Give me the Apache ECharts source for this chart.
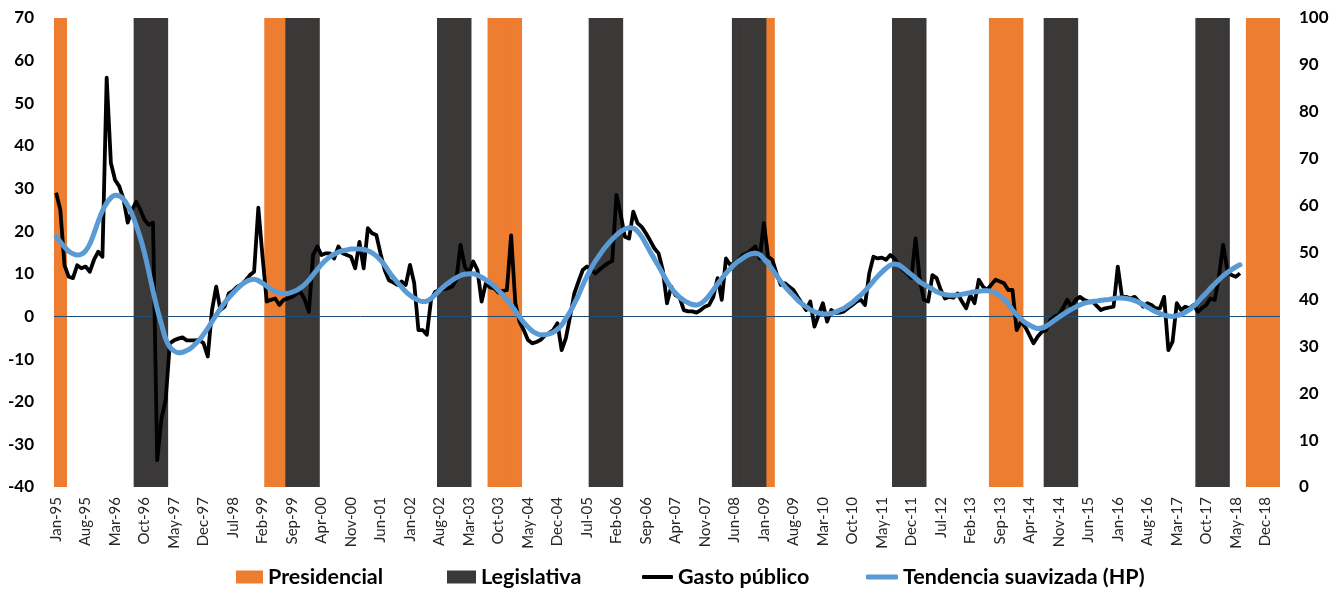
<!DOCTYPE html>
<html>
<head>
<meta charset="utf-8">
<script src="https://cdn.jsdelivr.net/npm/echarts@6/dist/echarts.min.js"></script>
<style>
html,body{margin:0;padding:0;background:#fff;}
#chart{width:1343px;height:591px;}
</style>
</head>
<body>
<div id="chart"></div>
<script>
// ---- Data ----
const monthNames = ['Jan','Feb','Mar','Apr','May','Jun','Jul','Aug','Sep','Oct','Nov','Dec'];
const startYear = 1995;
const monthCount = 291; // Jan-95 .. Mar-19

// Election periods: [first month index, last month index] (0 = Jan-95)
const presidencialPeriods = [[0,2],[50,54],[103,110],[169,170],[222,229],[283,290]];
const legislativaPeriods = [[19,26],[55,62],[91,98],[127,134],[161,168],[199,206],[235,242],[271,278]];

// Gasto público (monthly, from Jan-95)
const gastoPublico = [
29,25,12,9.3,9,12,11.3,11.7,10.5,13.3,
15.2,14,56,36,32,30.5,27.5,22,25,26.9,
25,22.6,21.5,22,-33.7,-24,-19.6,-6.3,-5.6,-5.2,
-4.9,-5.6,-5.6,-5.6,-5.5,-6.3,-9.4,1.5,7,1.5,
2.3,5.4,6,7,7.5,8.5,9.7,10.5,25.5,14,
3.5,3.9,4.2,2.7,3.9,4.2,4.6,5.3,5.8,4.0,
1.1,14.5,16.4,14.4,14.8,14.8,13.6,16.4,14.8,14.4,
14,11.3,17.5,11.3,20.7,19.5,19.1,14.8,10.9,8.5,
8,7.4,8.2,7.4,12.1,7.8,-3.2,-3.2,-4.3,3.9,
5.8,6.2,6.4,6.6,7,8.6,16.8,11.7,10.1,12.9,
10.9,3.5,7.8,6.8,6.6,5.6,6,6.2,19,3.1,
-1.2,-3.2,-5.5,-6.3,-6,-5.5,-4.5,-3.9,-3.2,-1.6,
-7.9,-5.1,0,5.4,8.2,10.9,11.7,11,10.1,11,
11.8,12.5,13,28.5,24,18.7,18.3,24.6,21.9,21,
19.5,17.8,16,14.8,10.9,3.1,7,5,4.4,1.5,
1.2,1.2,0.9,1.5,2.3,2.7,4.6,9,3.9,13.6,
12.1,12.5,13.3,14.4,14.8,15.6,16.4,13.6,21.9,14,
13.3,10.1,7.4,7.8,7,6.2,4.6,3.1,1.5,3.5,
-2.4,0.4,3.1,-1.2,1.5,0.8,0.9,1.2,2,2.7,
3.5,3.9,2.7,10.1,14,13.6,13.8,13.3,14.4,13.6,
12,10.9,10.1,9,18.3,8.6,3.9,3.5,9.7,9,
6.2,4.2,4.6,4.4,5.4,3.5,1.9,5,3.1,8.6,
7,6.2,7.5,8.6,8.2,7.8,6.2,6.2,-3.2,-1.2,
-2.4,-4.3,-6.3,-4.7,-3.6,-3.2,-0.8,0,0.4,2,
3.9,2.3,3.9,4.6,3.9,3.5,3.5,2.5,1.5,1.9,
2.1,2.3,11.7,4.6,4.6,4.2,4.6,3.5,2.3,3.1,
2.7,1.9,1.9,4.6,-7.9,-5.9,3.1,1.5,2.3,1.9,
2.7,1.1,2,2.7,4.2,3.9,9.3,16.8,10.9,9.7,
9.3,10.1
];

// Tendencia suavizada (HP)
const tendenciaHP = [
18.7,17.5,16.3,15.3,14.7,14.4,14.6,15.4,17.0,19.5,
22.3,24.8,26.6,27.8,28.4,28.3,27.5,26.0,24.0,21.4,
18.4,14.8,10.5,6.0,1.8,-1.8,-5.2,-7.2,-8.1,-8.5,
-8.4,-8.0,-7.4,-6.5,-5.5,-4.2,-2.8,-1.2,0.3,1.8,
3.2,4.4,5.5,6.5,7.4,8.1,8.6,8.7,8.4,7.8,
7.1,6.4,5.9,5.5,5.4,5.4,5.7,6.1,6.7,7.5,
8.5,9.8,11.0,12.2,13.2,14.0,14.6,15.1,15.4,15.6,
15.8,15.8,15.8,15.7,15.4,14.9,14.2,13.2,12.0,10.5,
9.2,8.0,6.9,5.8,5.0,4.3,3.8,3.5,3.6,4.2,
5.1,6.1,7.0,7.8,8.5,9.1,9.6,9.9,10.0,10.0,
9.7,9.2,8.6,7.9,7.1,6.1,5.1,4.0,2.7,1.3,
-0.1,-1.4,-2.5,-3.4,-4.0,-4.3,-4.3,-4.1,-3.7,-3.0,
-2.0,-0.5,1.1,3.0,5.0,7.3,9.4,11.3,13.0,14.4,
15.8,17.0,18.1,19.1,19.9,20.5,20.8,20.7,20.0,18.7,
17.0,15.2,13.5,11.8,10.0,8.2,6.7,5.5,4.5,3.8,
3.2,2.8,2.7,3.0,3.8,4.9,6.2,7.6,8.9,10.1,
11.2,12.2,13.0,13.7,14.3,14.7,14.8,14.5,13.5,12.4,
11.0,9.6,8.2,7.0,5.9,4.9,3.8,3.0,2.3,1.6,
1.1,0.8,0.6,0.6,0.7,1.0,1.5,1.9,2.6,3.3,
4.2,5.0,6.0,7.1,8.3,9.4,10.4,11.3,12.0,12.3,
12.1,11.4,10.6,9.8,9.0,8.1,7.5,7.0,6.4,5.8,
5.4,5.1,5.0,5.0,5.0,5.2,5.4,5.6,5.8,5.9,
6.0,6.0,5.9,5.5,4.8,4.0,3.0,1.5,0.4,-0.6,
-1.4,-2.0,-2.5,-2.8,-2.7,-2.3,-1.6,-0.9,-0.2,0.5,
1.1,1.7,2.2,2.7,3.1,3.3,3.5,3.6,3.8,3.9,
4.0,4.2,4.3,4.3,4.2,4.0,3.7,3.3,2.8,2.2,
1.6,1.1,0.7,0.3,0.1,0.0,0.2,0.5,1.0,1.6,
2.4,3.4,4.5,5.5,6.6,7.6,8.6,9.5,10.3,11.0,
11.6,12.1
];

const leftAxis = {min: -40, max: 70, interval: 10};
const rightAxis = {min: 0, max: 100, interval: 10};

// ---- Build ----
const categories = [];
for (let i = 0; i < monthCount; i++) {
  const y = startYear + Math.floor(i / 12);
  categories.push(monthNames[i % 12] + '-' + String(y % 100).padStart(2, '0'));
}
function periodSeries(periods) {
  const arr = new Array(monthCount).fill(null);
  periods.forEach(([a, b]) => { for (let i = a; i <= b; i++) arr[i] = rightAxis.max; });
  return arr;
}
const presData = periodSeries(presidencialPeriods);
const legData = periodSeries(legislativaPeriods);

const FONT = 'Lato';
const legendText = {fontFamily: FONT, fontWeight: 'bold', fontSize: 21.5, color: '#000'};
const legendBase = {top: 566, padding: 0, textStyle: legendText, selectedMode: false};

const chart = echarts.init(document.getElementById('chart'), null, {renderer: 'canvas'});
chart.setOption({
  animation: false,
  backgroundColor: '#ffffff',
  grid: {left: 54, right: 63, top: 18, bottom: 104, containLabel: false},
  legend: [
    Object.assign({}, legendBase, {data: ['Presidencial'], left: 236, itemWidth: 27, itemHeight: 13, icon: 'rect'}),
    Object.assign({}, legendBase, {data: ['Legislativa'], left: 447, itemWidth: 29, itemHeight: 13, icon: 'rect'}),
    Object.assign({}, legendBase, {data: ['Gasto público'], left: 642, itemWidth: 31, itemHeight: 4, icon: 'roundRect'}),
    Object.assign({}, legendBase, {data: ['Tendencia suavizada (HP)'], left: 866, itemWidth: 32, itemHeight: 5, icon: 'roundRect'})
  ],
  xAxis: {
    type: 'category',
    data: categories,
    boundaryGap: true,
    axisLine: {show: false},
    axisTick: {show: false},
    axisLabel: {interval: 6, rotate: 90, margin: 10, fontFamily: FONT, fontSize: 15, color: '#262626'}
  },
  yAxis: [
    {
      type: 'value', min: leftAxis.min, max: leftAxis.max, interval: leftAxis.interval,
      axisLine: {show: false}, axisTick: {show: false}, splitLine: {show: false},
      axisLabel: {margin: 20, fontFamily: FONT, fontWeight: 'bold', fontSize: 17, color: '#000'}
    },
    {
      type: 'value', min: rightAxis.min, max: rightAxis.max, interval: rightAxis.interval,
      position: 'right',
      axisLine: {show: false}, axisTick: {show: false}, splitLine: {show: false},
      axisLabel: {margin: 19, fontFamily: FONT, fontWeight: 'bold', fontSize: 17, color: '#000'}
    }
  ],
  series: [
    {
      name: 'Presidencial', type: 'bar', yAxisIndex: 1, data: presData,
      barWidth: 5, barGap: '-100%', barCategoryGap: 0,
      itemStyle: {color: '#ED7D31'}, z: 1
    },
    {
      name: 'Legislativa', type: 'bar', yAxisIndex: 1, data: legData,
      barWidth: 5, barGap: '-100%', barCategoryGap: 0,
      itemStyle: {color: '#3B3838'}, z: 1
    },
    {
      name: 'Gasto público', type: 'line', yAxisIndex: 0, data: gastoPublico,
      showSymbol: false, symbol: 'none',
      lineStyle: {color: '#000000', width: 3.8, join: 'round'},
      itemStyle: {color: '#000000'}, z: 10,
      markLine: {
        silent: true, symbol: 'none', z: 5,
        label: {show: false},
        lineStyle: {color: '#1F4E79', width: 1, type: 'solid'},
        data: [{yAxis: 0}]
      }
    },
    {
      name: 'Tendencia suavizada (HP)', type: 'line', yAxisIndex: 0, data: tendenciaHP,
      showSymbol: false, symbol: 'none', smooth: 0.3,
      lineStyle: {color: '#5B9BD5', width: 5, cap: 'round'},
      itemStyle: {color: '#5B9BD5'}, z: 11
    }
  ]
});
</script>
</body>
</html>
